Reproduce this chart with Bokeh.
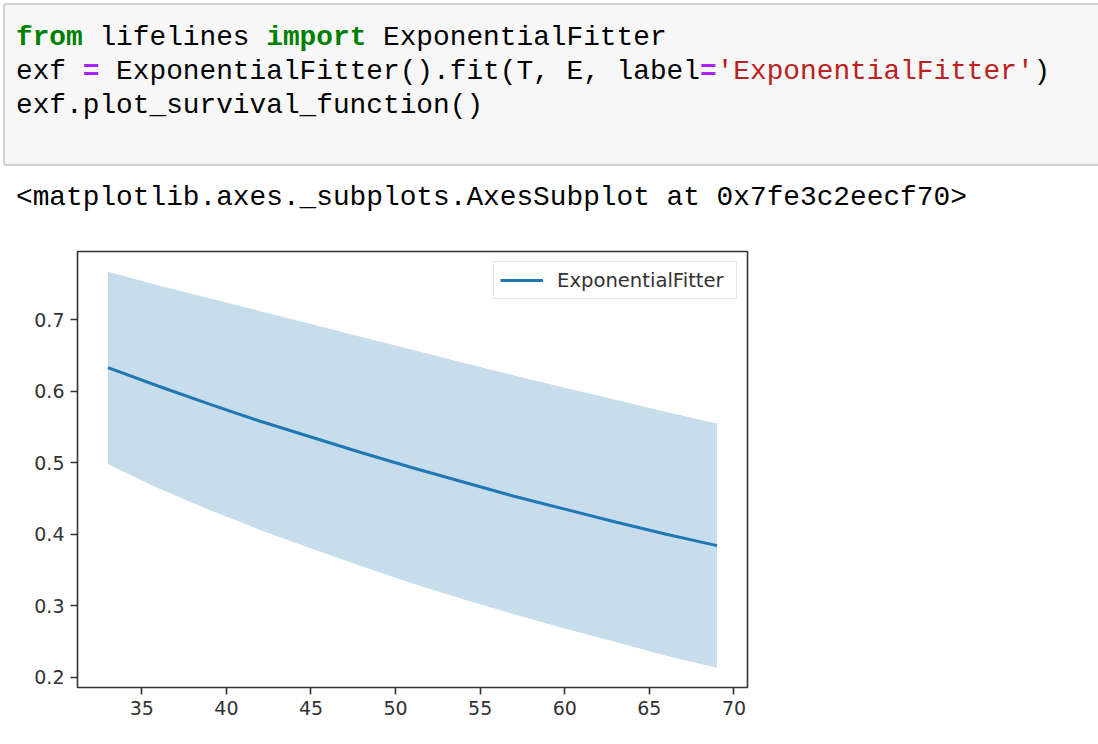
from bokeh.plotting import figure
from bokeh.models import Div, Range1d, FixedTicker, Legend, LegendItem
from bokeh.layouts import column
from bokeh.embed import file_html
from bokeh.resources import INLINE

# ---- data ----
timeline = [33, 36, 39, 42, 45, 48, 51, 54, 57, 60, 63, 66, 69]
survival = [0.633, 0.607, 0.582, 0.558, 0.536, 0.514, 0.493, 0.473, 0.453, 0.435, 0.417, 0.400, 0.384]
upper_ci = [0.767, 0.748, 0.730, 0.712, 0.694, 0.676, 0.658, 0.640, 0.622, 0.605, 0.588, 0.571, 0.555]
lower_ci = [0.498, 0.464, 0.434, 0.406, 0.380, 0.355, 0.331, 0.309, 0.288, 0.268, 0.249, 0.230, 0.213]
series_label = "ExponentialFitter"

x_ticks = [35, 40, 45, 50, 55, 60, 65, 70]
x_tick_labels = ["35", "40", "45", "50", "55", "60", "65", "70"]
y_ticks = [0.2, 0.3, 0.4, 0.5, 0.6, 0.7]
y_tick_labels = ["0.2", "0.3", "0.4", "0.5", "0.6", "0.7"]

code_lines = [
    [("from", "kw"), (" lifelines ", "n"), ("import", "kw"), (" ExponentialFitter", "n")],
    [("exf ", "n"), ("=", "op"), (" ExponentialFitter().fit(T, E, label", "n"), ("=", "op"),
     ("'ExponentialFitter'", "str"), (")", "n")],
    [("exf.plot_survival_function()", "n")],
]
output_line = "<matplotlib.axes._subplots.AxesSubplot at 0x7fe3c2eecf70>"

# ---- notebook cell (HTML) ----
tok_style = {
    "kw": "color:#008000;font-weight:bold;",
    "op": "color:#aa22ff;font-weight:bold;",
    "str": "color:#ba2121;",
    "n": "color:#000000;",
}

def esc(s):
    return s.replace("&", "&amp;").replace("<", "&lt;").replace(">", "&gt;")

mono = "font-family:'Liberation Mono','DejaVu Sans Mono',monospace;font-size:27.8px;line-height:34px;white-space:pre;"
code_html = "".join(
    "<div>" + "".join(f"<span style=\"{tok_style[k]}\">{esc(t)}</span>" for t, k in line) + "</div>"
    for line in code_lines
)
html = (
    "<div style=\"position:relative;width:1082px;height:235px;\">"
    "<div style=\"position:absolute;left:-2px;top:-2px;width:1100px;height:163px;"
    "background:#f7f7f7;border:2px solid #d0d0d0;border-radius:3px;\"></div>"
    f"<div style=\"position:absolute;left:11px;top:15.6px;{mono}\">{code_html}</div>"
    f"<div style=\"position:absolute;left:11px;top:176px;{mono}color:#000;\">{esc(output_line)}</div>"
    "</div>"
)
cell = Div(text=html, width=1082, height=235, styles={"overflow": "visible"})

# ---- chart ----
p = figure(
    frame_width=670, frame_height=436,
    min_border_left=77, min_border_top=6, min_border_right=20, min_border_bottom=45,
    x_range=Range1d(31.2, 70.8), y_range=Range1d(0.1855, 0.7955),
    output_backend="svg", toolbar_location=None,
)
p.grid.grid_line_color = None
p.background_fill_color = "white"
p.border_fill_color = "white"
p.outline_line_color = "#333333"
p.outline_line_width = 1.6

band = p.varea(x=timeline, y1=lower_ci, y2=upper_ci, fill_color="#1f77b4", fill_alpha=0.25)
line = p.line(x=timeline, y=survival, line_color="#1f77b4", line_width=3)

for ax, ticks, labels in ((p.xaxis[0], x_ticks, x_tick_labels), (p.yaxis[0], y_ticks, y_tick_labels)):
    ax.ticker = FixedTicker(ticks=ticks)
    ax.major_label_overrides = {t: l for t, l in zip(ticks, labels)}
    ax.axis_line_color = None
    ax.major_tick_line_color = "#333333"
    ax.major_tick_line_width = 1.6
    ax.major_tick_out = 7
    ax.major_tick_in = 0
    ax.minor_tick_line_color = None
    ax.major_label_text_font = "DejaVu Sans"
    ax.major_label_text_font_size = "19px"
    ax.major_label_text_color = "#333333"
    ax.major_label_standoff = 6

legend = Legend(items=[LegendItem(label=series_label, renderers=[line])],
                location="top_right")
legend.label_text_font = "DejaVu Sans"
legend.label_text_font_size = "19.6px"
legend.label_text_color = "#333333"
legend.glyph_width = 43
legend.glyph_height = 24
legend.label_height = 24
legend.label_width = 173
legend.label_standoff = 14
legend.padding = 6
legend.spacing = 0
legend.margin = 10
legend.border_line_color = "#d0d0d0"
legend.border_line_width = 1.5
legend.background_fill_alpha = 0.8
p.add_layout(legend)

layout = column(cell, p, spacing=0)
open("out.html", "w").write(file_html(layout, INLINE))
